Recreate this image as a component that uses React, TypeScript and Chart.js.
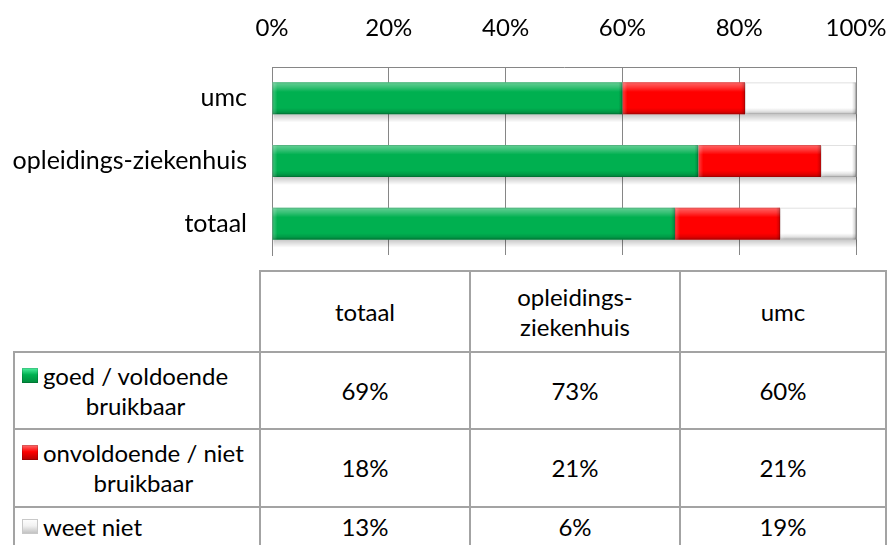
import React, { useEffect, useRef } from 'react';
import { Chart, registerables } from 'chart.js';

Chart.register(...registerables);

// ---- data ----
const categories = ['totaal', 'opleidings-ziekenhuis', 'umc'];
const seriesNames = ['goed / voldoende\nbruikbaar', 'onvoldoende / niet\nbruikbaar', 'weet niet'];
const goedValues = [69, 73, 60];
const onvoldoendeValues = [18, 21, 21];
const weetNietValues = [13, 6, 19];
const tickMin = 0;
const tickMax = 100;
const tickStep = 20;

// ---- styles ----
const seriesColors = ['#00B050', '#FF0000', '#FFFFFF'];
const markerGradients = [
  'linear-gradient(#4ff0a0, #00b050 45%, #008a3c)',
  'linear-gradient(#ff7070, #ff0000 45%, #b00000)',
  'linear-gradient(#ffffff, #f2f2f2 45%, #bdbdbd)',
];
const FONT = 'Lato, "Open Sans", sans-serif';
const GRID = '#868686';

const bevelPlugin = {
  id: 'bevel',
  beforeDatasetsDraw(chart: any) {
    const ctx = chart.ctx;
    ctx.save();
    chart.data.datasets.forEach((_ds: any, di: number) => {
      const meta = chart.getDatasetMeta(di);
      meta.data.forEach((el: any) => {
        const p = el.getProps(['x', 'y', 'base', 'height'], true);
        const left = Math.min(p.x, p.base);
        const right = Math.max(p.x, p.base);
        const bottom = p.y + p.height / 2;
        const g = ctx.createLinearGradient(0, bottom, 0, bottom + 8);
        g.addColorStop(0, 'rgba(0,0,0,0.22)');
        g.addColorStop(1, 'rgba(0,0,0,0)');
        ctx.fillStyle = g;
        ctx.fillRect(left + 1, bottom, right - left, 8);
      });
    });
    ctx.restore();
  },
  afterDatasetsDraw(chart: any) {
    const ctx = chart.ctx;
    ctx.save();
    chart.data.datasets.forEach((_ds: any, di: number) => {
      const meta = chart.getDatasetMeta(di);
      meta.data.forEach((el: any) => {
        const p = el.getProps(['x', 'y', 'base', 'height'], true);
        const left = Math.min(p.x, p.base);
        const right = Math.max(p.x, p.base);
        const w = right - left;
        if (w <= 0) return;
        const top = p.y - p.height / 2;
        const h = p.height;
        const g = ctx.createLinearGradient(0, top, 0, top + h);
        g.addColorStop(0, 'rgba(255,255,255,0.4)');
        g.addColorStop(0.15, 'rgba(255,255,255,0.22)');
        g.addColorStop(0.3, 'rgba(255,255,255,0)');
        g.addColorStop(0.8, 'rgba(0,0,0,0)');
        g.addColorStop(0.9, 'rgba(0,0,0,0.1)');
        g.addColorStop(1, 'rgba(0,0,0,0.28)');
        ctx.fillStyle = g;
        ctx.fillRect(left, top, w, h);
        const gl = ctx.createLinearGradient(left, 0, left + 5, 0);
        gl.addColorStop(0, 'rgba(255,255,255,0.25)');
        gl.addColorStop(1, 'rgba(255,255,255,0)');
        ctx.fillStyle = gl;
        ctx.fillRect(left, top, Math.min(5, w), h);
        const gr = ctx.createLinearGradient(right - 4, 0, right, 0);
        gr.addColorStop(0, 'rgba(0,0,0,0)');
        gr.addColorStop(1, 'rgba(0,0,0,0.22)');
        ctx.fillStyle = gr;
        ctx.fillRect(Math.max(left, right - 4), top, Math.min(4, w), h);
        ctx.strokeStyle = 'rgba(0,0,0,0.12)';
        ctx.lineWidth = 1;
        ctx.strokeRect(left + 0.5, top + 0.5, w - 1, h - 1);
      });
    });
    ctx.restore();
  },
};

function BarChart() {
  const ref = useRef<HTMLCanvasElement | null>(null);
  useEffect(() => {
    if (!ref.current) return;
    const seriesValues = [goedValues, onvoldoendeValues, weetNietValues];
    const chart = new Chart(ref.current, {
      type: 'bar',
      data: {
        labels: categories,
        datasets: seriesNames.map((name, i) => ({
          label: name.replace('\n', ' '),
          data: seriesValues[i],
          backgroundColor: seriesColors[i],
          borderWidth: 0,
          barPercentage: 0.51,
          categoryPercentage: 1,
        })),
      },
      options: {
        indexAxis: 'y',
        responsive: false,
        animation: false,
        devicePixelRatio: 1,
        layout: { padding: { left: 0, right: 33, top: 0, bottom: 10 } },
        plugins: { legend: { display: false }, tooltip: { enabled: false } },
        scales: {
          x: {
            position: 'top',
            stacked: true,
            min: tickMin,
            max: tickMax,
            ticks: {
              stepSize: tickStep,
              padding: 24,
              color: '#000',
              font: { family: FONT, size: 24 },
              callback: (v: any) => v + '%',
            },
            grid: { color: GRID, lineWidth: 1, drawTicks: false },
            border: { display: true, color: GRID, width: 1 },
            afterFit: (s: any) => {
              s.height = 67;
              s.paddingLeft = 0;
              s.paddingRight = 0;
            },
          },
          y: {
            stacked: true,
            reverse: true,
            ticks: {
              padding: 25,
              color: '#000',
              font: { family: FONT, size: 25 },
            },
            grid: { display: false, drawTicks: false },
            border: { display: true, color: GRID, width: 1 },
            afterFit: (s: any) => {
              s.width = 272;
              s.paddingTop = 0;
              s.paddingBottom = 0;
            },
          },
        },
      },
      plugins: [bevelPlugin],
    } as any);
    return () => chart.destroy();
  }, []);
  return (
    <canvas
      ref={ref}
      width={889}
      height={265}
      style={{ position: 'absolute', left: 0, top: 0, width: 889, height: 265, display: 'block' }}
    />
  );
}

function DataTable() {
  const seriesValues = [goedValues, onvoldoendeValues, weetNietValues];
  const border = '2px solid #a3a3a3';
  const cell: React.CSSProperties = {
    border,
    textAlign: 'center',
    verticalAlign: 'middle',
    padding: 0,
    fontFamily: FONT,
    fontSize: 24,
    lineHeight: '30px',
    color: '#000',
    fontWeight: 'normal',
  };
  const rowHeights = [77, 78, 40];
  return (
    <table
      style={{
        position: 'absolute',
        left: 13,
        top: 270,
        width: 872,
        borderCollapse: 'collapse',
        tableLayout: 'fixed',
      }}
    >
      <colgroup>
        <col style={{ width: 246 }} />
        <col style={{ width: 210 }} />
        <col style={{ width: 210 }} />
        <col style={{ width: 206 }} />
      </colgroup>
      <tbody>
        <tr style={{ height: 81 }}>
          <td style={{ ...cell, borderTop: 'none', borderLeft: 'none' }}></td>
          {categories.map((c) => (
            <td key={c} style={{ ...cell, padding: '0 20px' }}>{c}</td>
          ))}
        </tr>
        {seriesNames.map((name, si) => (
          <tr key={name} style={{ height: rowHeights[si] }}>
            <td style={{ ...cell, textAlign: 'left' }}>
              <div style={{ display: 'flex', alignItems: 'flex-start', paddingLeft: 7 }}>
                <span
                  style={{
                    display: 'inline-block',
                    width: 16,
                    height: 15,
                    marginTop: 7,
                    marginRight: 5,
                    flex: 'none',
                    background: markerGradients[si],
                    boxShadow: si === 2 ? 'inset 0 0 0 1px #c8c8c8' : 'inset 0 0 0 1px rgba(0,0,0,0.15)',
                  }}
                />
                <div style={{ textAlign: 'center', whiteSpace: 'pre-line', width: 'fit-content' }}>{name}</div>
              </div>
            </td>
            {seriesValues[si].map((v, ci) => (
              <td key={ci} style={cell}>{v + '%'}</td>
            ))}
          </tr>
        ))}
      </tbody>
    </table>
  );
}

export default function App() {
  return (
    <div
      style={{
        position: 'absolute',
        left: 0,
        top: 0,
        width: 889,
        height: 545,
        overflow: 'hidden',
        background: '#fff',
      }}
    >
      <BarChart />
      <DataTable />
    </div>
  );
}
